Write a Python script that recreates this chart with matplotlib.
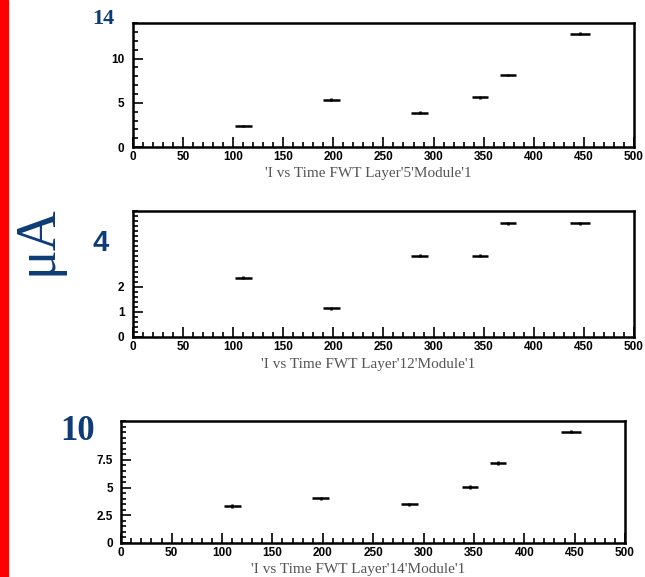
import matplotlib.pyplot as plt
from matplotlib.ticker import MultipleLocator, FixedLocator
from matplotlib.patches import Rectangle

# time (x) and current (uA) for the three FWT modules
time_l5 = [110, 198, 286, 346, 374, 446]
cur_l5 = [2.4, 5.36, 3.88, 5.63, 8.14, 12.81]
time_l12 = [110, 198, 286, 346, 374, 446]
cur_l12 = [2.36, 1.14, 3.22, 3.22, 4.52, 4.52]
time_l14 = [110, 198, 286, 346, 374, 446]
cur_l14 = [3.33, 4.02, 3.48, 5.06, 7.23, 10.06]
time_err = [8.5, 8.5, 8.5, 8, 8, 10]

titles = ["'I vs Time FWT Layer'5'Module'1",
          "'I vs Time FWT Layer'12'Module'1",
          "'I vs Time FWT Layer'14'Module'1"]

navy = '#0d3c76'

fig = plt.figure(figsize=(6.45, 5.77), dpi=100)
fig.patches.append(Rectangle((0, 0), 8 / 645, 1, transform=fig.transFigure,
                             color='red', zorder=0))

panels = [
    # rect, x, y, ylim, y minor, y labels, yerr
    ([0.206, 0.745, 0.777, 0.215], time_l5, cur_l5, 14, 1, [0, 5, 10], 0.15),
    ([0.206, 0.416, 0.777, 0.218], time_l12, cur_l12, 5, 0.2, [0, 1, 2], 0.06),
    ([0.188, 0.059, 0.781, 0.211], time_l14, cur_l14, 11, 0.5, [0, 2.5, 5, 7.5], 0.15),
]

for (rect, xs, ys, ytop, ymin, ylabs, yerr), title in zip(panels, titles):
    ax = fig.add_axes(rect)
    ax.errorbar(xs, ys, xerr=time_err, yerr=yerr, fmt='none', ecolor='black',
                elinewidth=1.8, capsize=0)
    ax.set_xlim(0, 500)
    ax.set_ylim(0, ytop)
    ax.xaxis.set_major_locator(MultipleLocator(50))
    ax.xaxis.set_minor_locator(MultipleLocator(10))
    ax.yaxis.set_major_locator(FixedLocator(ylabs))
    ax.yaxis.set_minor_locator(MultipleLocator(ymin))
    ax.set_yticklabels([('%g' % v) for v in ylabs])
    ax.tick_params(which='both', direction='in', top=False, right=False,
                   width=1.2, labelsize=8.5)
    ax.tick_params(which='major', length=7)
    ax.tick_params(axis='x', which='major', pad=3)
    ax.tick_params(axis='y', which='major', pad=6)
    ax.tick_params(which='minor', length=3.5)
    for lab in ax.get_xticklabels() + ax.get_yticklabels():
        lab.set_fontweight('bold')
        lab.set_family('Liberation Sans')
    for sp in ax.spines.values():
        sp.set_linewidth(1.8)
    ax.text(0.47, -0.215, title, transform=ax.transAxes, ha='center', va='center',
            family='Liberation Serif', fontsize=11, color='#555555')

# big axis annotations
fig.text(103 / 645, 1 - 19 / 577, '14', ha='center', va='center', color=navy,
         family='Liberation Serif', fontweight='bold', fontsize=16)
fig.text(101 / 645, 1 - 243 / 577, '4', ha='center', va='center', color=navy,
         family='Liberation Sans', fontweight='bold', fontsize=21)
fig.text(78 / 645, 1 - 431 / 577, '10', ha='center', va='center', color=navy,
         family='Liberation Serif', fontweight='bold', fontsize=25)
fig.text(38 / 645, 1 - 240 / 577, 'μA', ha='center', va='center', color=navy,
         family='Liberation Serif', fontsize=40, rotation=90)

fig.savefig('out.png', dpi=100)
